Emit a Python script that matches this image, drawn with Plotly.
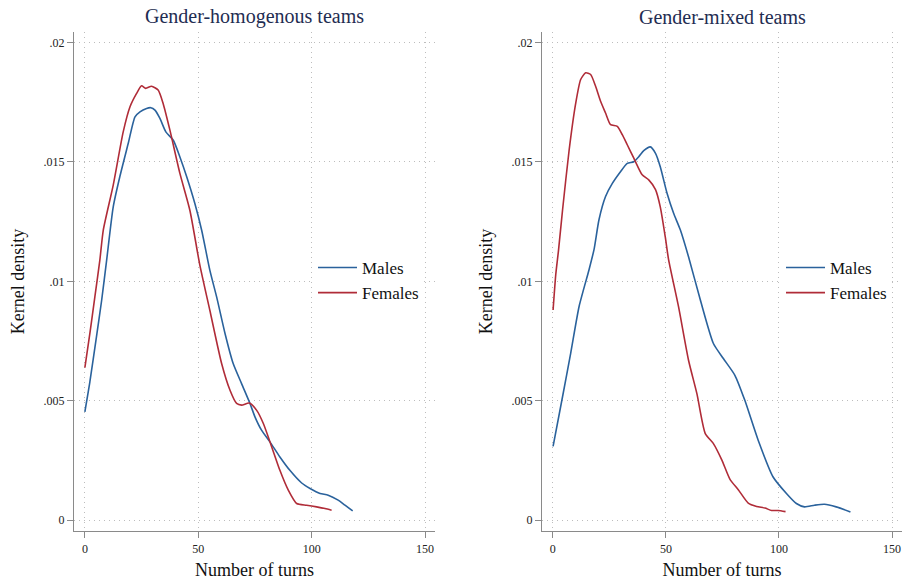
import plotly.graph_objects as go

# ---------------- data ----------------
homog_male_x = [0, 2.2, 5.1, 7.4, 9.6, 12.5, 15.4, 19.1, 22.1, 24.3, 27.2, 29.1, 30.9, 33.1,
                35.7, 39.0, 41.9, 44.9, 48.5, 51.5, 55.1, 58.1, 61.8, 65.4, 69.1, 72.8, 75.0,
                77.9, 81.6, 86.0, 90.4, 95.6, 99.3, 103.7, 107.3, 111.7, 114.7, 118.1]
homog_male_y = [0.00454, 0.00579, 0.00768, 0.00921, 0.01089, 0.01312, 0.01438, 0.01577, 0.01689,
                0.0171, 0.01724, 0.01727, 0.01717, 0.01682, 0.01626, 0.01591, 0.01521, 0.01438,
                0.01326, 0.01214, 0.01047, 0.00935, 0.00782, 0.00656, 0.00572, 0.00489, 0.00433,
                0.00377, 0.00328, 0.00265, 0.00209, 0.00156, 0.00133, 0.00112, 0.00105, 0.00084,
                0.00063, 0.00039]

homog_female_x = [0, 2.2, 4.4, 6.6, 8.1, 12.5, 16.9, 19.9, 22.8, 25.0, 26.8, 29.4, 32.3, 34.5,
                  37.5, 41.9, 46.3, 50.7, 55.1, 60.3, 64.0, 66.9, 69.1, 72.5, 75.7, 78.7, 82.4,
                  86.0, 89.7, 93.4, 97.8, 102.2, 105.9, 108.8]
homog_female_y = [0.00639, 0.00782, 0.00935, 0.01089, 0.01214, 0.01403, 0.01626, 0.01731, 0.01787,
                  0.01819, 0.01808, 0.01817, 0.01801, 0.01745, 0.01633, 0.01452, 0.01298, 0.01068,
                  0.00879, 0.00656, 0.00544, 0.00489, 0.00482, 0.00491, 0.00461, 0.00405, 0.00307,
                  0.00209, 0.00126, 0.0007, 0.00063, 0.00056, 0.00049, 0.00042]

mixed_male_x = [0.1, 4.3, 7.9, 11.6, 16.0, 18.2, 20.4, 23.3, 26.3, 29.9, 32.9, 35.8, 38.0, 40.2,
                43.1, 45.4, 47.5, 50.5, 53.4, 56.4, 60.0, 65.2, 71.0, 75.4, 80.5, 84.9, 90.8,
                97.4, 103.3, 107.7, 111.3, 115.7, 120.1, 125.3, 131.6]
mixed_male_y = [0.00309, 0.00518, 0.007, 0.00895, 0.01049, 0.01133, 0.01258, 0.01355, 0.0141,
                0.01459, 0.01494, 0.01501, 0.01522, 0.01547, 0.01563, 0.01536, 0.0148, 0.01369,
                0.01285, 0.01215, 0.01103, 0.00923, 0.0074, 0.00677, 0.00607, 0.00502, 0.00335,
                0.00181, 0.00112, 0.0007, 0.00056, 0.00063, 0.00067, 0.00056, 0.00035]

mixed_female_x = [0.1, 1.3, 2.5, 4.3, 7.2, 10.1, 12.3, 14.5, 16.7, 18.9, 21.1, 23.3, 25.5, 28.5,
                  30.7, 32.9, 35.8, 39.5, 42.4, 45.4, 47.5, 49.7, 51.2, 55.6, 60.0, 63.7, 67.4,
                  71.0, 74.7, 78.4, 82.0, 86.4, 90.1, 93.8, 96.7, 99.6, 102.9]
mixed_female_y = [0.0088, 0.0103, 0.0113, 0.013, 0.0155, 0.01745, 0.01845, 0.01873, 0.01866,
                  0.01817, 0.01754, 0.01705, 0.01656, 0.01649, 0.01614, 0.01572, 0.01516, 0.01446,
                  0.01425, 0.01384, 0.01312, 0.01187, 0.0109, 0.00893, 0.0067, 0.0053, 0.00363,
                  0.00321, 0.00253, 0.0017, 0.00128, 0.00072, 0.00058, 0.00051, 0.00041, 0.00041,
                  0.00036]

panel_titles = ["Gender-homogenous teams", "Gender-mixed teams"]
series_names = ["Males", "Females"]
x_ticks = [0, 50, 100, 150]
y_ticks = [0, 0.005, 0.01, 0.015, 0.02]
y_tick_text = ["0", ".005", ".01", ".015", ".02"]

# ---------------- styling ----------------
BLUE = "#2a629c"
RED = "#b02c38"
FONT = "Liberation Serif"
TITLE_COL = "#1f2d52"
AXIS_COL = "#8a8a8a"
GRID_COL = "#bdbdbd"

fig = go.Figure()

def add(xs, ys, name, color, xa, ya, leg, grp):
    fig.add_trace(go.Scatter(x=xs, y=ys, mode="lines", name=name,
                             line=dict(color=color, width=1.6, shape="spline", smoothing=0.6),
                             xaxis=xa, yaxis=ya, legend=leg, legendgroup=grp))

add(homog_male_x, homog_male_y, series_names[0], BLUE, "x", "y", "legend", "m")
add(homog_female_x, homog_female_y, series_names[1], RED, "x", "y", "legend", "f")
add(mixed_male_x, mixed_male_y, series_names[0], BLUE, "x2", "y2", "legend2", "m2")
add(mixed_female_x, mixed_female_y, series_names[1], RED, "x2", "y2", "legend2", "f2")

W, H = 902, 581
T, B = 32, 50
L_DOM = [74 / W, 435 / W]
R_DOM = [542 / W, 1.0]

def xaxis(dom, anchor):
    return dict(domain=dom, anchor=anchor, range=[-4.8, 154.4], tickvals=x_ticks,
                automargin=False, ticklabeloverflow="allow",
                showline=True, linecolor=AXIS_COL, linewidth=1.3, mirror=False,
                ticks="outside", ticklen=6, tickcolor=AXIS_COL, tickwidth=1,
                showgrid=True, gridcolor=GRID_COL, griddash="1px,4px", gridwidth=1,
                zeroline=False, tickfont=dict(family=FONT, size=12, color="#222"),
                title=dict(text="Number of turns", font=dict(family=FONT, size=18, color="#111"),
                           standoff=8))

def yaxis(anchor):
    return dict(domain=[0, 1], anchor=anchor, range=[-0.00045, 0.02044],
                tickvals=y_ticks, ticktext=y_tick_text, automargin=False,
                showline=True, linecolor=AXIS_COL, linewidth=1.3,
                ticks="outside", ticklen=6, tickcolor=AXIS_COL, tickwidth=1,
                showgrid=True, gridcolor=GRID_COL, griddash="1px,4px", gridwidth=1,
                zeroline=False, tickfont=dict(family=FONT, size=12, color="#222"),
                title=dict(text="Kernel density", font=dict(family=FONT, size=18, color="#111"),
                           standoff=14))

def legend(xpx):
    return dict(x=xpx / W, xanchor="left", y=(H - 250 - B) / (H - T - B),
                yanchor="top", bgcolor="white", borderwidth=0, itemwidth=39,
                font=dict(family=FONT, size=17, color="#111"),
                tracegroupgap=0, traceorder="grouped")

fig.update_layout(
    width=W, height=H,
    margin=dict(l=0, r=0, t=T, b=B, autoexpand=False),
    paper_bgcolor="white", plot_bgcolor="white",
    showlegend=True,
    xaxis=xaxis(L_DOM, "y"),
    yaxis=yaxis("x"),
    xaxis2=xaxis(R_DOM, "y2"),
    yaxis2=yaxis("x2"),
    legend=legend(313),
    legend2=legend(781),
    annotations=[
        dict(text=panel_titles[0], x=(L_DOM[0] + L_DOM[1]) / 2, y=1, xref="paper", yref="paper",
             xanchor="center", yanchor="bottom", yshift=2, showarrow=False,
             font=dict(family=FONT, size=20, color=TITLE_COL)),
        dict(text=panel_titles[1], x=(R_DOM[0] + R_DOM[1]) / 2, y=1, xref="paper", yref="paper",
             xanchor="center", yanchor="bottom", yshift=2, showarrow=False,
             font=dict(family=FONT, size=20, color=TITLE_COL)),
    ],
)

# remove the browser's default 8px page margin so the figure fills the window exactly
fig.write_html("out.html",
               config={"displayModeBar": False},
               post_script="document.body.style.margin='0';document.body.style.overflow='hidden';")
